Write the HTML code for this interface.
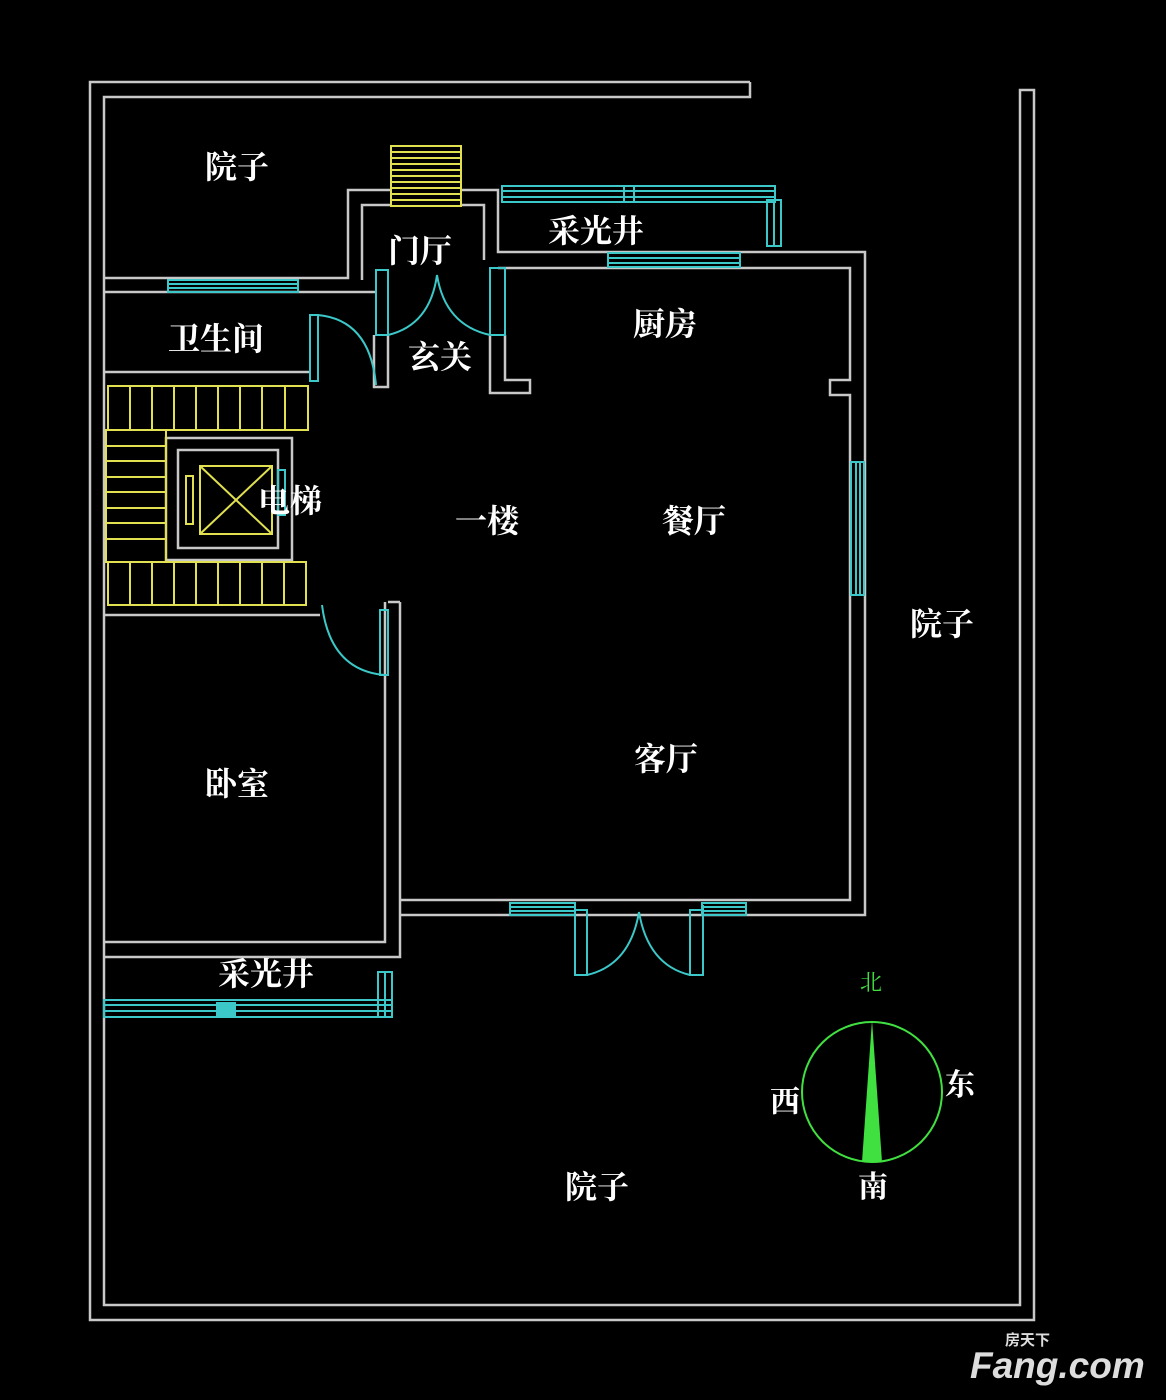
<!DOCTYPE html><html><head><meta charset="utf-8"><style>
html,body{margin:0;padding:0;background:#000;width:1166px;height:1400px;overflow:hidden}
svg text{font-family:"Liberation Serif","Noto Serif CJK SC",serif;font-weight:bold;fill:#fff}
</style></head><body>
<svg width="1166" height="1400" viewBox="0 0 1166 1400" xmlns="http://www.w3.org/2000/svg">
<rect width="1166" height="1400" fill="#000"/>
<g fill="none" stroke="#c8c8c8" stroke-width="2.5">
<polyline points="750,82 90,82 90,1320 1034,1320 1034,90 1020,90 1020,1305 104,1305 104,97 750,97 750,82"/>
<polyline points="104,278 348,278 348,190 390,190"/>
<polyline points="362,280 362,205 390,205"/>
<polyline points="462,190 498,190 498,252 865,252 865,915 400,915"/>
<polyline points="462,205 484,205 484,260"/>
<polyline points="498,268 850,268 850,380 830,380 830,395 850,395 850,900 400,900"/>
<polyline points="104,292 376,292"/>
<polyline points="104,372 310,372"/>
<polyline points="374,335 374,387 388,387 388,335"/>
<polyline points="505,335 505,380 530,380 530,393 490,393 490,335"/>
<polyline points="104,615 320,615"/>
<polyline points="385,602 385,942 104,942"/>
<polyline points="400,602 400,957 104,957"/>
<line x1="388" y1="602" x2="400" y2="602"/>
<rect x="166" y="438" width="126" height="122"/>
<rect x="178" y="450" width="100" height="98"/>
</g>
<g fill="none" stroke="#3cc8c8" stroke-width="2">
<rect x="168" y="280" width="130" height="12"/><line x1="168" y1="284" x2="298" y2="284"/><line x1="168" y1="288" x2="298" y2="288"/>
<rect x="502" y="186" width="273" height="16"/><line x1="502" y1="191" x2="775" y2="191"/><line x1="502" y1="197" x2="775" y2="197"/><line x1="624" y1="186" x2="624" y2="202"/><line x1="634" y1="186" x2="634" y2="202"/>
<rect x="767" y="200" width="14" height="46"/><line x1="774" y1="200" x2="774" y2="246"/>
<rect x="608" y="253" width="132" height="14"/><line x1="608" y1="258" x2="740" y2="258"/><line x1="608" y1="263" x2="740" y2="263"/>
<rect x="851" y="462" width="13" height="133"/><line x1="856" y1="462" x2="856" y2="595"/><line x1="860" y1="462" x2="860" y2="595"/>
<rect x="376" y="270" width="12" height="65"/><rect x="490" y="268" width="15" height="67"/>
<path d="M388,335 Q430,325 437,275 Q445,325 490,335"/>
<rect x="310" y="315" width="8" height="66"/><path d="M318,315 Q370,320 376,385"/>
<rect x="380" y="610" width="8" height="65"/><path d="M322,605 Q330,670 384,675"/>
<rect x="278" y="470" width="7" height="45"/>
<rect x="510" y="903" width="65" height="12"/><line x1="510" y1="907" x2="575" y2="907"/><line x1="510" y1="911" x2="575" y2="911"/>
<rect x="702" y="903" width="44" height="12"/><line x1="702" y1="907" x2="746" y2="907"/><line x1="702" y1="911" x2="746" y2="911"/>
<polyline points="575,905 575,975 587,975 587,910 575,910"/><polyline points="703,905 703,975 690,975 690,910 703,910"/>
<path d="M587,975 Q630,965 639,912 Q648,965 690,975"/>
<rect x="104" y="1000" width="288" height="17"/><line x1="104" y1="1005" x2="392" y2="1005"/><line x1="104" y1="1011" x2="392" y2="1011"/>
<rect x="378" y="972" width="14" height="45"/><line x1="385" y1="972" x2="385" y2="1017"/>
<rect x="217" y="1003" width="18" height="12" fill="#3cc8c8"/>
</g>
<g fill="none" stroke="#e0e050" stroke-width="2">
<rect x="391" y="146" width="70" height="60"/>
<line x1="391" y1="152" x2="461" y2="152"/><line x1="391" y1="158" x2="461" y2="158"/><line x1="391" y1="164" x2="461" y2="164"/><line x1="391" y1="170" x2="461" y2="170"/><line x1="391" y1="176" x2="461" y2="176"/><line x1="391" y1="182" x2="461" y2="182"/><line x1="391" y1="188" x2="461" y2="188"/><line x1="391" y1="194" x2="461" y2="194"/><line x1="391" y1="200" x2="461" y2="200"/>
<rect x="108" y="386" width="200" height="44"/>
<line x1="130" y1="386" x2="130" y2="430"/><line x1="152" y1="386" x2="152" y2="430"/><line x1="174" y1="386" x2="174" y2="430"/><line x1="196" y1="386" x2="196" y2="430"/><line x1="218" y1="386" x2="218" y2="430"/><line x1="240" y1="386" x2="240" y2="430"/><line x1="262" y1="386" x2="262" y2="430"/><line x1="285" y1="386" x2="285" y2="430"/>
<rect x="106" y="430" width="60" height="132"/>
<line x1="106" y1="446" x2="166" y2="446"/><line x1="106" y1="461" x2="166" y2="461"/><line x1="106" y1="477" x2="166" y2="477"/><line x1="106" y1="492" x2="166" y2="492"/><line x1="106" y1="508" x2="166" y2="508"/><line x1="106" y1="523" x2="166" y2="523"/><line x1="106" y1="539" x2="166" y2="539"/>
<rect x="108" y="562" width="198" height="43"/>
<line x1="130" y1="562" x2="130" y2="605"/><line x1="152" y1="562" x2="152" y2="605"/><line x1="174" y1="562" x2="174" y2="605"/><line x1="196" y1="562" x2="196" y2="605"/><line x1="218" y1="562" x2="218" y2="605"/><line x1="240" y1="562" x2="240" y2="605"/><line x1="262" y1="562" x2="262" y2="605"/><line x1="284" y1="562" x2="284" y2="605"/>
<rect x="200" y="466" width="72" height="68"/><line x1="200" y1="466" x2="272" y2="534"/><line x1="272" y1="466" x2="200" y2="534"/>
<rect x="186" y="476" width="7" height="48"/>
</g>
<circle cx="872" cy="1092" r="70" fill="none" stroke="#40e040" stroke-width="2"/>
<polygon points="872,1020 862,1162 882,1162" fill="#40e040"/>
<g font-size="32">
<text x="205" y="178">院子</text>
<text x="388" y="262">门厅</text>
<text x="548" y="242">采光井</text>
<text x="168" y="350">卫生间</text>
<text x="408" y="368">玄关</text>
<text x="633" y="335">厨房</text>
<text x="258" y="512">电梯</text>
<text x="455" y="532">一楼</text>
<text x="662" y="532">餐厅</text>
<text x="910" y="635">院子</text>
<text x="205" y="795">卧室</text>
<text x="634" y="770">客厅</text>
<text x="218" y="985">采光井</text>
<text x="565" y="1198">院子</text>
<text x="945" y="1095" font-size="30">东</text>
<text x="770" y="1112" font-size="30">西</text>
<text x="858" y="1197" font-size="30">南</text>
</g>
<text x="860" y="990" font-size="22" style="fill:#40e040;font-weight:normal">北</text>
<text x="970" y="1378" font-size="37" style="font-family:'Liberation Sans',sans-serif;fill:#ddd;font-style:italic">Fang.com</text>
<text x="1005" y="1345" font-size="15" style="font-family:'Liberation Sans','Noto Sans CJK SC',sans-serif;fill:#ddd">房天下</text>
</svg>
</body></html>
